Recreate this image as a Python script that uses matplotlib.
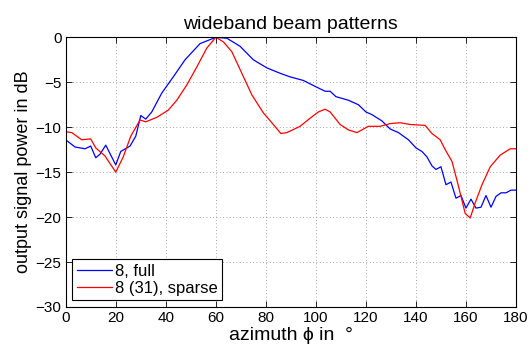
import matplotlib
matplotlib.use("Agg")
import matplotlib.pyplot as plt

plt.rcParams['font.family'] = ['Liberation Sans', 'DejaVu Sans']

full_az = [0, 3.7, 7.7, 10, 12, 13.7, 16, 20, 22, 25.7, 28, 30, 32, 34.4, 38.4, 43, 47.7,
           53.7, 60, 64.4, 69.7, 75, 80.4, 85.7, 89.7, 95, 100, 103.7, 105.7, 108, 113, 117,
           120, 122.4, 126.4, 129.7, 133, 137, 140, 142.4, 144.4, 146.4, 148, 150, 152, 154,
           156, 158, 160, 162, 164, 166, 168, 170, 172, 174, 176, 178, 180]
full_db = [-11.4, -12.2, -12.4, -12.1, -13.4, -13.0, -12.0, -14.2, -12.7, -12.1, -11.0, -8.7,
           -9.1, -8.3, -6.2, -4.4, -2.5, -0.7, 0.0, -0.1, -1.0, -2.5, -3.4, -4.0, -4.4, -4.8,
           -5.5, -6.0, -6.0, -6.6, -7.0, -7.5, -8.3, -8.6, -9.3, -10.2, -10.6, -11.4, -12.3,
           -12.7, -13.3, -14.3, -14.7, -14.4, -16.4, -16.1, -17.9, -17.6, -19.0, -18.0, -19.0,
           -18.9, -17.6, -18.9, -17.7, -17.3, -17.3, -17.0, -17.0]

sparse_az = [0, 2.4, 6.4, 10, 12, 15.7, 20, 23, 26, 29.7, 32, 36.4, 41, 44.4, 48.4, 52.4, 56.4,
             60, 63, 66.4, 70.4, 74.4, 79, 83, 86, 88.4, 93.7, 97.7, 101, 103.7, 105.7, 109.7,
             113, 116.4, 118.4, 121, 125.7, 129.7, 133.7, 137.7, 143.7, 146.4, 149.7, 151.7,
             154.4, 156.4, 158, 159.7, 161.7, 163.7, 166.4, 169.7, 173.7, 177.7, 180]
sparse_db = [-10.5, -10.6, -11.4, -11.3, -12.3, -13.2, -15.0, -13.3, -11.0, -9.2, -9.4, -8.9,
             -8.1, -7.0, -5.3, -3.3, -1.2, 0.0, -0.5, -1.6, -4.0, -6.4, -8.4, -9.7, -10.7,
             -10.6, -9.9, -9.0, -8.3, -8.0, -8.3, -9.7, -10.3, -10.6, -10.3, -9.9, -9.9, -9.6,
             -9.5, -9.7, -9.8, -10.7, -11.4, -12.5, -13.8, -15.9, -17.7, -19.6, -20.1, -18.4,
             -16.4, -14.4, -13.1, -12.4, -12.4]

labels = ["8, full", "8 (31), sparse"]
xticks = list(range(0, 181, 20))
yticks = list(range(-30, 1, 5))

fig = plt.figure(figsize=(5.30, 3.51), dpi=100)
ax = fig.add_axes([0.124, 0.1254, 0.8496, 0.7683])
ax.plot(full_az, full_db, color='#0000ff', lw=0.9, label=labels[0])
ax.plot(sparse_az, sparse_db, color='#ff0000', lw=0.9, label=labels[1])
ax.set_xlim(0, 180)
ax.set_ylim(-30, 0)
ax.set_xticks(xticks)
ax.set_yticks(yticks)
ax.set_yticklabels([("\u2212%d" % -t) if t < 0 else "%d" % t for t in yticks])
ax.grid(True, linestyle=(0, (1, 3)), color='#8a8a8a', lw=0.6)
ax.tick_params(direction='in', top=True, right=True, labelsize=11, length=4, width=0.6, pad=3)
for s in ax.spines.values():
    s.set_linewidth(0.8)
ax.set_title("wideband beam patterns", fontsize=14, pad=6)
ax.set_xlabel("azimuth \u03d5 in  \u00b0", fontsize=14, labelpad=1)
ax.set_ylabel("output signal power in dB", fontsize=13, labelpad=3)
leg = ax.legend(loc='lower left', fontsize=12, fancybox=False, edgecolor='black',
                framealpha=1, borderaxespad=0.4, handlelength=2.1, borderpad=0.25,
                labelspacing=0.15, handletextpad=0.2)
leg.get_frame().set_linewidth(0.8)
fig.savefig("out.png", dpi=100)
